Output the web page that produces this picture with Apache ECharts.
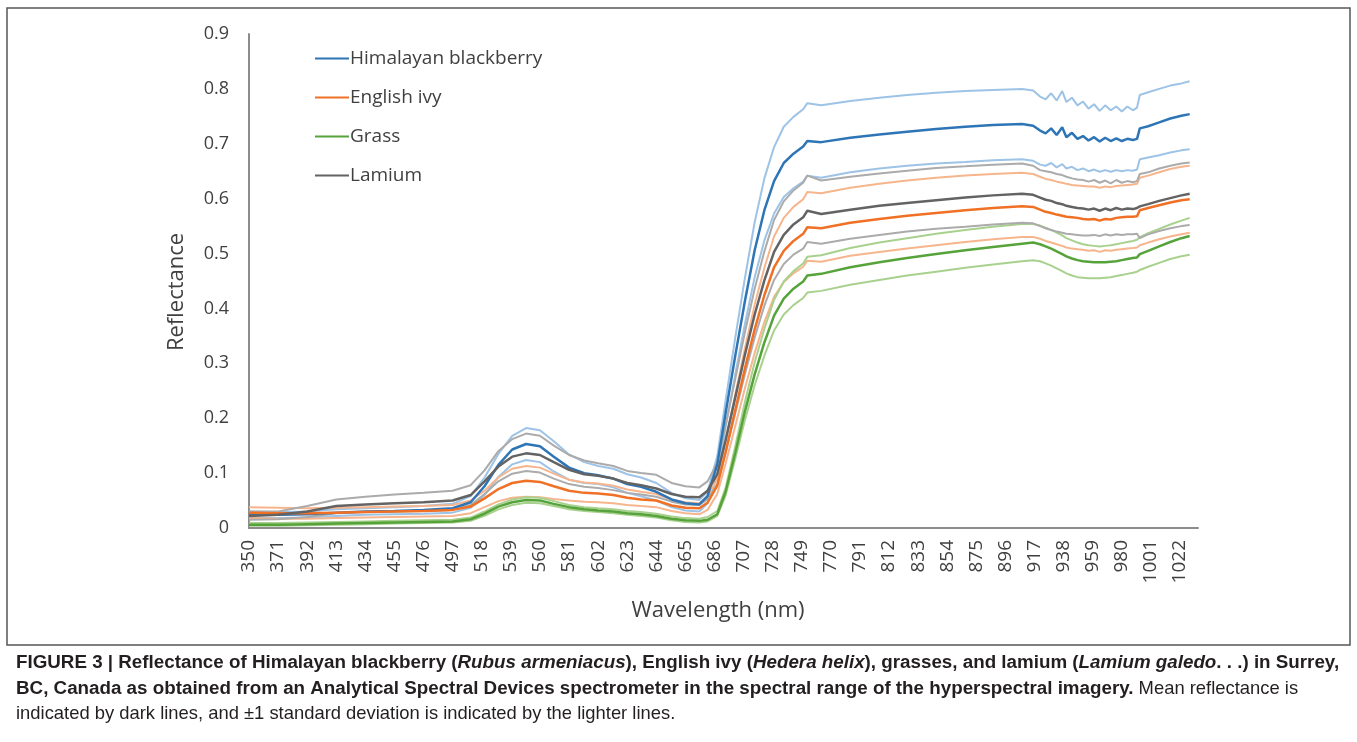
<!DOCTYPE html>
<html>
<head>
<meta charset="utf-8">
<title>Reflectance spectra</title>
<script src="https://cdn.jsdelivr.net/npm/echarts@6/dist/echarts.min.js"></script>
<style>
  html, body { margin: 0; padding: 0; background: #ffffff; }
  #chart { width: 1357px; height: 742px; }
</style>
</head>
<body>
<div id="chart"></div>
<script>
// Wavelengths (nm) at which reflectance was sampled
const WAVELENGTH = [350, 371, 392, 413, 434, 455, 476, 497, 510, 520, 530, 540, 550, 560, 570, 581, 592, 602, 613, 623, 633, 644, 655, 665, 675, 681,
  688, 694, 701, 708, 715, 722, 729, 736, 743, 750, 753,
  763, 784, 805, 825, 846, 867, 887, 908,
  916, 921, 925, 929, 933, 937, 940, 944, 948, 952, 956, 960, 964, 968, 972, 976, 980, 984, 988, 991,
  993, 999, 1007, 1015, 1023, 1029];

// Himalayan blackberry: mean, +1 SD, -1 SD
const blackberryMean = [0.025,0.024,0.025,0.028,0.030,0.031,0.033,0.036,0.047,0.076,0.115,0.143,0.153,0.149,0.130,0.110,0.100,0.096,0.090,0.080,0.075,0.066,0.052,0.045,0.043,0.058,
  0.116,0.209,0.314,0.414,0.506,0.579,0.632,0.665,0.682,0.695,0.705,
  0.703,0.711,0.717,0.722,0.727,0.731,0.734,0.736,
  0.733,0.724,0.719,0.728,0.716,0.730,0.712,0.720,0.709,0.714,0.706,0.712,0.704,0.711,0.705,0.710,0.705,0.709,0.707,0.709,
  0.728,0.732,0.739,0.746,0.751,0.754];
const blackberryHigh = [0.030,0.029,0.030,0.034,0.036,0.038,0.040,0.044,0.058,0.092,0.135,0.168,0.182,0.178,0.158,0.134,0.120,0.113,0.108,0.098,0.092,0.082,0.064,0.054,0.051,0.066,
  0.131,0.232,0.347,0.456,0.557,0.637,0.694,0.731,0.749,0.763,0.774,
  0.770,0.778,0.784,0.789,0.793,0.796,0.798,0.800,
  0.797,0.786,0.781,0.792,0.779,0.796,0.776,0.784,0.770,0.777,0.764,0.772,0.760,0.770,0.761,0.768,0.759,0.768,0.761,0.766,
  0.789,0.794,0.800,0.806,0.810,0.814];
const blackberryLow = [0.018,0.018,0.019,0.022,0.024,0.025,0.026,0.028,0.037,0.060,0.093,0.116,0.124,0.120,0.103,0.088,0.082,0.080,0.074,0.064,0.058,0.050,0.038,0.032,0.030,0.045,
  0.097,0.183,0.280,0.372,0.457,0.524,0.573,0.603,0.619,0.631,0.642,
  0.638,0.648,0.655,0.660,0.664,0.667,0.670,0.672,
  0.669,0.662,0.660,0.665,0.657,0.663,0.655,0.658,0.652,0.655,0.650,0.653,0.649,0.652,0.649,0.652,0.650,0.652,0.651,0.653,
  0.672,0.675,0.679,0.684,0.688,0.690];

// English ivy: mean, +1 SD, -1 SD
const ivyMean = [0.028,0.027,0.027,0.028,0.029,0.030,0.031,0.033,0.039,0.054,0.071,0.082,0.086,0.084,0.076,0.068,0.064,0.063,0.060,0.055,0.052,0.050,0.041,0.037,0.036,0.046,
  0.077,0.138,0.215,0.291,0.362,0.424,0.475,0.505,0.523,0.536,0.548,
  0.546,0.556,0.563,0.569,0.574,0.579,0.583,0.586,
  0.585,0.580,0.576,0.574,0.571,0.569,0.567,0.566,0.565,0.563,0.562,0.563,0.560,0.563,0.562,0.565,0.566,0.567,0.567,0.568,
  0.579,0.583,0.588,0.593,0.597,0.599];
const ivyHigh = [0.038,0.037,0.036,0.037,0.038,0.039,0.040,0.042,0.050,0.068,0.092,0.108,0.113,0.110,0.099,0.088,0.083,0.081,0.077,0.070,0.066,0.062,0.052,0.047,0.045,0.056,
  0.090,0.158,0.243,0.328,0.407,0.474,0.531,0.565,0.585,0.599,0.612,
  0.610,0.620,0.627,0.633,0.638,0.642,0.645,0.647,
  0.645,0.640,0.636,0.634,0.631,0.629,0.627,0.625,0.624,0.623,0.622,0.622,0.620,0.622,0.621,0.623,0.624,0.625,0.626,0.627,
  0.638,0.642,0.648,0.654,0.658,0.660];
const ivyLow = [0.018,0.017,0.017,0.018,0.019,0.020,0.021,0.022,0.027,0.038,0.049,0.055,0.057,0.056,0.053,0.050,0.048,0.047,0.045,0.042,0.040,0.038,0.031,0.027,0.025,0.033,
  0.062,0.117,0.186,0.255,0.319,0.375,0.421,0.448,0.464,0.476,0.487,
  0.485,0.496,0.503,0.509,0.515,0.521,0.526,0.530,
  0.530,0.527,0.523,0.520,0.517,0.514,0.511,0.509,0.508,0.507,0.505,0.506,0.503,0.506,0.505,0.507,0.508,0.509,0.510,0.511,
  0.515,0.520,0.526,0.531,0.535,0.538];

// Grass: mean, +1 SD, -1 SD
const grassMean = [0.006,0.006,0.007,0.008,0.009,0.010,0.011,0.012,0.016,0.026,0.039,0.047,0.051,0.050,0.044,0.038,0.034,0.032,0.030,0.027,0.025,0.022,0.017,0.014,0.013,0.015,
  0.025,0.066,0.137,0.213,0.280,0.338,0.387,0.418,0.436,0.449,0.460,
  0.463,0.475,0.484,0.492,0.499,0.506,0.512,0.518,
  0.520,0.517,0.513,0.509,0.504,0.499,0.495,0.491,0.488,0.486,0.485,0.484,0.484,0.484,0.485,0.486,0.488,0.490,0.492,0.493,
  0.499,0.505,0.513,0.521,0.528,0.532];
const grassHigh = [0.009,0.009,0.010,0.011,0.012,0.013,0.014,0.015,0.019,0.030,0.043,0.052,0.056,0.055,0.049,0.042,0.038,0.036,0.034,0.031,0.029,0.026,0.021,0.018,0.017,0.020,
  0.031,0.073,0.149,0.230,0.302,0.363,0.416,0.449,0.468,0.482,0.494,
  0.497,0.510,0.520,0.528,0.536,0.543,0.549,0.554,
  0.554,0.551,0.547,0.543,0.538,0.533,0.528,0.524,0.520,0.517,0.515,0.514,0.513,0.514,0.515,0.517,0.519,0.521,0.523,0.525,
  0.530,0.537,0.545,0.553,0.560,0.565];
const grassLow = [0.004,0.004,0.005,0.006,0.007,0.008,0.009,0.010,0.013,0.022,0.034,0.042,0.046,0.045,0.040,0.034,0.031,0.029,0.027,0.024,0.022,0.019,0.014,0.011,0.010,0.012,
  0.022,0.059,0.126,0.197,0.260,0.314,0.360,0.389,0.406,0.419,0.429,
  0.432,0.443,0.452,0.460,0.467,0.474,0.480,0.486,
  0.488,0.486,0.482,0.478,0.473,0.468,0.464,0.460,0.457,0.456,0.455,0.455,0.455,0.456,0.457,0.459,0.461,0.463,0.465,0.467,
  0.470,0.476,0.483,0.490,0.495,0.498];

// Lamium: mean, +1 SD, -1 SD
const lamiumMean = [0.022,0.024,0.030,0.040,0.043,0.045,0.047,0.050,0.060,0.085,0.112,0.130,0.136,0.133,0.120,0.106,0.098,0.095,0.090,0.082,0.078,0.072,0.062,0.057,0.056,0.068,
  0.098,0.160,0.238,0.316,0.389,0.451,0.503,0.534,0.553,0.566,0.578,
  0.572,0.580,0.587,0.592,0.597,0.602,0.606,0.609,
  0.607,0.602,0.598,0.596,0.592,0.590,0.587,0.585,0.583,0.582,0.580,0.582,0.578,0.582,0.579,0.583,0.580,0.582,0.581,0.583,
  0.586,0.590,0.596,0.601,0.606,0.609];
const lamiumHigh = [0.030,0.030,0.040,0.052,0.057,0.061,0.064,0.068,0.078,0.105,0.140,0.162,0.172,0.168,0.150,0.133,0.123,0.118,0.113,0.104,0.100,0.097,0.082,0.076,0.074,0.085,
  0.119,0.187,0.272,0.357,0.436,0.504,0.561,0.595,0.615,0.629,0.642,
  0.633,0.640,0.646,0.651,0.656,0.659,0.662,0.664,
  0.660,0.652,0.650,0.648,0.645,0.643,0.640,0.637,0.635,0.634,0.631,0.634,0.629,0.633,0.628,0.634,0.629,0.632,0.630,0.632,
  0.645,0.648,0.655,0.660,0.664,0.666];
const lamiumLow = [0.015,0.016,0.020,0.027,0.029,0.030,0.031,0.033,0.042,0.062,0.085,0.099,0.104,0.101,0.090,0.080,0.075,0.073,0.069,0.064,0.061,0.057,0.048,0.043,0.042,0.052,
  0.080,0.137,0.209,0.281,0.347,0.405,0.452,0.481,0.498,0.509,0.521,
  0.518,0.527,0.534,0.540,0.545,0.549,0.553,0.556,
  0.555,0.550,0.546,0.543,0.540,0.538,0.536,0.535,0.534,0.533,0.533,0.534,0.532,0.535,0.533,0.535,0.534,0.535,0.535,0.536,
  0.528,0.535,0.541,0.546,0.550,0.552];

const SPECIES = ['Himalayan blackberry', 'English ivy', 'Grass', 'Lamium'];
const WL_START = 350;   // first wavelength, axis origin
const WL_END = 1035;    // right end of the wavelength axis
const WL_STEP = 21;     // spacing between wavelength labels

const groups = [
  { name: SPECIES[0], mean: blackberryMean, high: blackberryHigh, low: blackberryLow, dark: '#2E75B6', light: '#9DC3E6' },
  { name: SPECIES[1], mean: ivyMean, high: ivyHigh, low: ivyLow, dark: '#F07125', light: '#F6B58C' },
  { name: SPECIES[2], mean: grassMean, high: grassHigh, low: grassLow, dark: '#55A33A', light: '#A9D18E' },
  { name: SPECIES[3], mean: lamiumMean, high: lamiumHigh, low: lamiumLow, dark: '#636363', light: '#ABABAB' }
];

// x values are offsets from the first wavelength so label ticks start at 350
function toPoints(values) {
  return WAVELENGTH.map((w, i) => [w - WL_START, values[i]]);
}

function lineSeries(name, values, color, width, z) {
  return {
    name: name,
    type: 'line',
    data: toPoints(values),
    showSymbol: false,
    symbol: 'none',
    smooth: false,
    z: z,
    lineStyle: { color: color, width: width },
    itemStyle: { color: color },
    emphasis: { disabled: true }
  };
}

const series = [];
groups.forEach(g => {
  series.push(lineSeries(g.name + ' +1 SD', g.high, g.light, 2, 2));
  series.push(lineSeries(g.name + ' -1 SD', g.low, g.light, 2, 2));
});
groups.forEach(g => {
  series.push(lineSeries(g.name, g.mean, g.dark, 2.5, 3));
});

const AXIS_FONT = '"Open Sans", "Noto Sans", sans-serif';
const CAPTION_FONT = '"Liberation Sans", Arial, sans-serif';

const chart = echarts.init(document.getElementById('chart'), null, { renderer: 'canvas' });

const captionRich = {
  b: { fontFamily: CAPTION_FONT, fontSize: 18.8, fontWeight: 'bold', color: '#231f20' },
  bi: { fontFamily: CAPTION_FONT, fontSize: 18.8, fontWeight: 'bold', fontStyle: 'italic', color: '#231f20' },
  n: { fontFamily: CAPTION_FONT, fontSize: 18.4, fontWeight: 'normal', color: '#231f20' }
};

function captionLine(text, y) {
  return {
    type: 'text',
    x: 16,
    y: y,
    silent: true,
    style: {
      text: text,
      rich: captionRich,
      font: '18.5px ' + CAPTION_FONT,
      fill: '#231f20',
      textVerticalAlign: 'middle'
    }
  };
}

function axisTitle(text, x, y, rotation) {
  return {
    type: 'text',
    silent: true,
    x: x,
    y: y,
    rotation: rotation,
    style: {
      text: text,
      font: '22px ' + AXIS_FONT,
      fill: '#404040',
      textAlign: 'center',
      textVerticalAlign: 'middle'
    }
  };
}

chart.setOption({
  animation: false,
  backgroundColor: '#ffffff',
  grid: { left: 249, right: 159, top: 34, bottom: 214, containLabel: false },
  legend: {
    data: SPECIES,
    orient: 'vertical',
    left: 315,
    top: 49,
    padding: 0,
    itemGap: 20,
    itemWidth: 34,
    itemHeight: 2,
    icon: 'rect',
    selectedMode: false,
    textStyle: { fontFamily: AXIS_FONT, fontSize: 19, color: '#404040', padding: [0, 0, 0, -4] }
  },
  xAxis: {
    type: 'value',
    min: 0,
    max: WL_END - WL_START,
    interval: WL_STEP,
    axisLine: { show: true, lineStyle: { color: '#8c8c8c', width: 2 } },
    axisTick: { show: false },
    splitLine: { show: false },
    axisLabel: {
      rotate: 90,
      margin: 12,
      showMaxLabel: false,
      fontFamily: AXIS_FONT,
      fontSize: 19,
      color: '#404040',
      formatter: v => String(v + WL_START)
    }
  },
  yAxis: {
    type: 'value',
    min: 0,
    max: 0.9,
    interval: 0.1,
    axisLine: { show: true, lineStyle: { color: '#8c8c8c', width: 2 } },
    axisTick: { show: false },
    splitLine: { show: false },
    axisLabel: {
      margin: 20,
      fontFamily: AXIS_FONT,
      fontSize: 18,
      color: '#404040',
      formatter: v => (v === 0 ? '0' : v.toFixed(1))
    }
  },
  series: series,
  graphic: [
    {
      type: 'rect',
      silent: true,
      shape: { x: 7, y: 8, width: 1343, height: 637 },
      style: { fill: 'none', stroke: '#555555', lineWidth: 1.5 }
    },
    axisTitle('Reflectance', 177, 292, Math.PI / 2),
    axisTitle('Wavelength (nm)', 718, 611, 0),
    captionLine('{b|FIGURE 3 | Reflectance of Himalayan blackberry (}{bi|Rubus armeniacus}{b|), English ivy (}{bi|Hedera helix}{b|), grasses, and lamium (}{bi|Lamium galedo}{b|. . .) in Surrey,}', 663),
    captionLine('{b|BC, Canada as obtained from an Analytical Spectral Devices spectrometer in the spectral range of the hyperspectral imagery.}{n| Mean reflectance is}', 689),
    captionLine('{n|indicated by dark lines, and \u00b11 standard deviation is indicated by the lighter lines.}', 714)
  ]
});
</script>
</body>
</html>
